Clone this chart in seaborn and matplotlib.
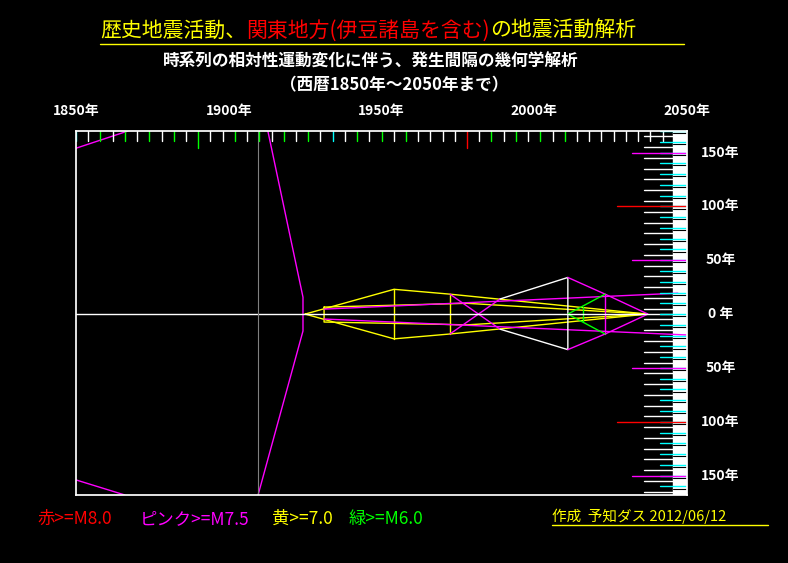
import numpy as np
import matplotlib
matplotlib.use("Agg")
import matplotlib.pyplot as plt
import seaborn as sns

sns.set_theme(style="white")
plt.rcParams['font.family'] = ['Noto Sans CJK JP', 'DejaVu Sans']

# 年表 (西暦) と発生間隔 (年) で表した幾何線
lines = [
    ("magenta", [1850, 1867], [154, 170]),
    ("magenta", [1850, 1866], [-154, -168]),
    ("magenta", [1912.8, 1924.3, 1924.3, 1909.6], [170, 15.7, -15.7, -168]),
    ("yellow", [1925, 1954.1, 1972.4, 2036.9, 1972.4, 1954.1, 1925], [0, 23, 18.5, 0, -18.5, -23, 0]),
    ("yellow", [1931.2, 1978, 2036.9, 1978, 1931.2, 1931.2], [6.5, 10, 0, -10, -7.4, 6.5]),
    ("yellow", [1954.1, 1954.1], [23, -23]),
    ("yellow", [1972.4, 1972.4], [18.5, -18.5]),
    ("magenta", [1931.2, 2047], [4.6, 19.4]),
    ("magenta", [1931.2, 2050], [-4.6, -19.4]),
    ("magenta", [1972.4, 1988.8], [18.5, -14]),
    ("magenta", [1972.4, 1988.8], [-18.5, 14]),
    ("white", [1988.8, 2011, 2011, 1988.8], [14, 34, -33, -14]),
    ("magenta", [2011, 2023.2, 2037.2, 2023.2, 2011], [34, 18.5, 0, -18.5, -33]),
    ("magenta", [2023.2, 2023.2], [18.5, -18.5]),
    ("lime", [2023.2, 2011, 2023.2], [18.5, 0, -18.5]),
    ("lime", [2016, 2016], [6.5, -6.5]),
    ("white", [1850, 2050], [0, 0]),
    ("gray", [1909.6, 1909.6], [170, -168]),
]

# 上部目盛 (4年毎)
tick_years = np.arange(1850, 2046, 4)
tick_colors = (["cyan"] + ["white", "lime"] * 5 + ["white"] * 2 + ["lime", "white"] * 4
               + ["cyan"] + ["white", "lime"] * 3 + ["white"] * 4 + ["red"]
               + ["white", "lime"] * 3 + ["white", "lime"])
tick_colors = (tick_colors + ["white"] * 60)[:len(tick_years)]

year_labels = [1850, 1900, 1950, 2000, 2050]
interval_labels = [150, 100, 50, 0, -50, -100, -150]
marks_long = {150: "magenta", 100: "red", 50: "magenta", -50: "magenta", -100: "red", -150: "magenta"}

fig = plt.figure(figsize=(7.88, 5.63), dpi=100, facecolor="black")
ax = fig.add_axes([76/788, 68/563, 611/788, 364/563])
ax.set_facecolor("black")
ax.set_xlim(1850, 2050)
ax.set_ylim(-168, 170)
ax.set_xticks([]); ax.set_yticks([])
for s in ax.spines.values():
    s.set_color("white")

for c, xs, ys in lines:
    lw = 0.8 if c == "gray" else 1.0
    ax.plot(xs, ys, color=c, lw=lw)

for yr, c in zip(tick_years, tick_colors):
    h = 16 if (c == "red" or yr == 1890) else 9
    ax.plot([yr, yr], [170, 170 - h], color=c, lw=1)

# 右側の目盛
ax.axvspan(2045.5, 2050, color="white")
for v in np.arange(-165, 170, 10):
    ax.plot([2036, 2050], [v, v], color="white", lw=1)
    ax.plot([2041, 2050], [v + 5, v + 5], color="cyan", lw=1)
for v in np.arange(-162, 170, 10):
    ax.plot([2045.5, 2050], [v, v], color="black", lw=0.8)
for v, c in marks_long.items():
    x0 = 2027 if c == "red" else 2032
    ax.plot([x0, 2050], [v, v], color=c, lw=1)

for yr in year_labels:
    ax.text(yr, 1.035, f"{yr}年", transform=ax.get_xaxis_transform(), color="white",
            fontsize=10, fontweight="bold", ha="center", va="bottom")
for v in interval_labels:
    ax.text(1.055, v, f"{abs(v)} 年" if v == 0 else f"{abs(v)}年", transform=ax.get_yaxis_transform(),
            color="white", fontsize=10, fontweight="bold", ha="center", va="center")

# タイトル
t1 = fig.text(0.127, 0.945, "歴史地震活動、", color="yellow", fontsize=15, va="center")
t2 = ax.annotate("関東地方(伊豆諸島を含む)", xy=(1, 0.5), xycoords=t1, color="red",
                 fontsize=15, va="center", ha="left", annotation_clip=False)
ax.annotate("の地震活動解析", xy=(1, 0.5), xycoords=t2, color="yellow",
            fontsize=15, va="center", ha="left", annotation_clip=False)
fig.add_artist(plt.Line2D([0.127, 0.868], [0.922, 0.922], color="yellow", lw=1))
fig.text(0.47, 0.89, "時系列の相対性運動変化に伴う、発生間隔の幾何学解析", color="white",
         fontsize=12, fontweight="bold", ha="center", va="center")
fig.text(0.5, 0.849, "（西暦1850年～2050年まで）", color="white",
         fontsize=12, fontweight="bold", ha="center", va="center")

# 凡例
legend_items = [("赤>=M8.0", "red", 0.048), ("ピンク>=M7.5", "magenta", 0.177),
                ("黄>=7.0", "yellow", 0.345), ("緑>=M6.0", "lime", 0.442)]
for txt, c, x in legend_items:
    fig.text(x, 0.078, txt, color=c, fontsize=12.5, va="center")
fig.text(0.70, 0.083, "作成  予知ダス 2012/06/12", color="yellow", fontsize=10.5, va="center")
fig.add_artist(plt.Line2D([0.70, 0.975], [0.067, 0.067], color="yellow", lw=1))

fig.savefig("out.png", dpi=100, facecolor="black")
